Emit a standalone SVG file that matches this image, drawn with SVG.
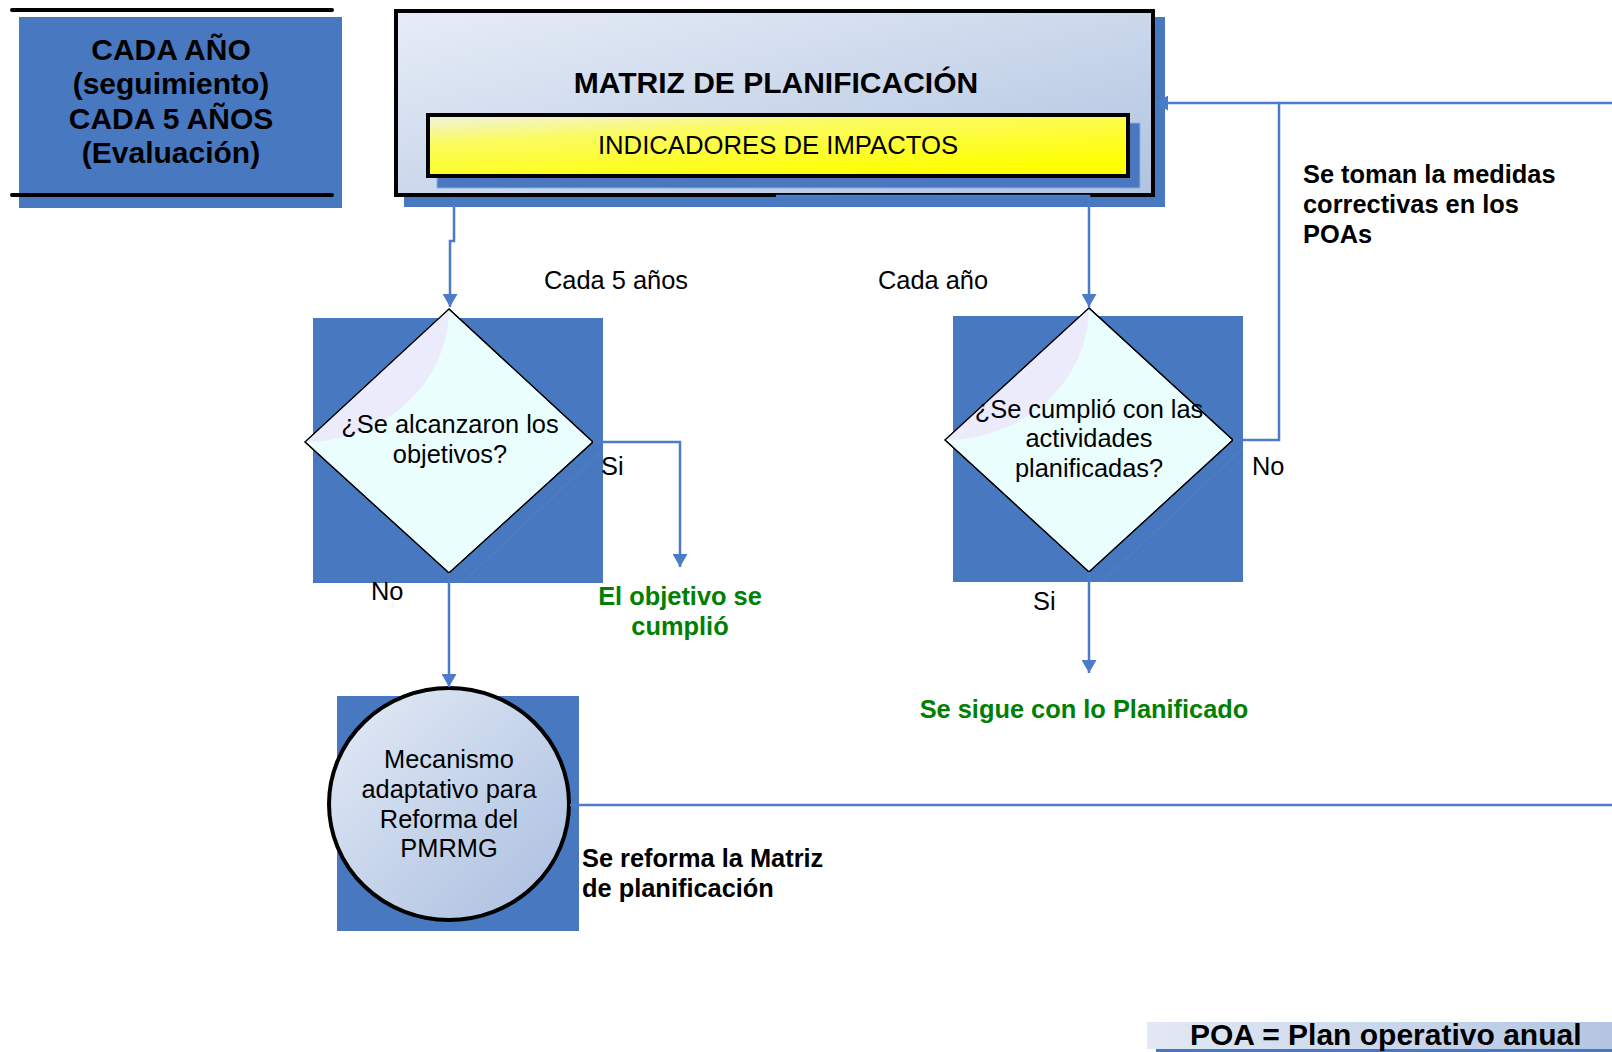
<svg xmlns="http://www.w3.org/2000/svg" width="1612" height="1052" viewBox="0 0 1612 1052">
<style>
text{font-family:"Liberation Sans",Arial,sans-serif;fill:#000}
.b{font-weight:bold}
.r25{font-size:25.4px}
.b25{font-size:25.4px;font-weight:bold}
.big{font-size:30px;font-weight:bold}
.g{fill:#008000}
.shadow{fill:#4878c0}
.dia{fill:#ebfefe;stroke:#000;stroke-width:1.2}
.hl{fill:#ecebfb}
.con{fill:none;stroke:#4a7cc9;stroke-width:2.5}
.mid{text-anchor:middle}
</style>
<defs>
<linearGradient id="gBox" x1="0" y1="0" x2="1" y2="1">
<stop offset="0" stop-color="#e7edf7"/>
<stop offset="1" stop-color="#b0c3e0"/>
</linearGradient>
<linearGradient id="gYel" x1="0" y1="0" x2="0.6" y2="1">
<stop offset="0" stop-color="#f0f2e6"/>
<stop offset="0.35" stop-color="#fbfb60"/>
<stop offset="1" stop-color="#ffff00"/>
</linearGradient>
<linearGradient id="gCir" x1="0" y1="0" x2="1" y2="1">
<stop offset="0" stop-color="#e4ebf6"/>
<stop offset="1" stop-color="#a9bedf"/>
</linearGradient>
<linearGradient id="gPoa" x1="0" y1="0" x2="1" y2="0">
<stop offset="0" stop-color="#e3e9f4"/>
<stop offset="1" stop-color="#b3c5e2"/>
</linearGradient>
<marker id="arr" markerUnits="userSpaceOnUse" viewBox="0 0 13 15" refX="13" refY="7.5" markerWidth="13" markerHeight="15" orient="auto">
<path d="M0,0 L13,7.5 L0,15 Z" fill="#4a7cc9"/>
</marker>
</defs>

<g id="leyenda-periodos">
<rect x="19" y="17" width="323" height="191" class="shadow"/>
<line x1="12" y1="10" x2="332" y2="10" stroke="#000" stroke-width="4" stroke-linecap="round"/>
<line x1="12" y1="195" x2="332" y2="195" stroke="#000" stroke-width="4" stroke-linecap="round"/>
<text class="big mid" x="171" y="60">CADA AÑO</text>
<text class="big mid" x="171" y="94">(seguimiento)</text>
<text class="big mid" x="171" y="129">CADA 5 AÑOS</text>
<text class="big mid" x="171" y="163">(Evaluación)</text>
</g>

<g id="matriz">
<rect x="404" y="17" width="761" height="190" class="shadow"/>
<rect x="396" y="11" width="757" height="184" fill="url(#gBox)" stroke="#000" stroke-width="4"/>
<text class="big mid" x="776" y="93">MATRIZ DE PLANIFICACIÓN</text>
<rect x="437" y="123" width="703" height="65" fill="#4a78c0" stroke="#8eaee0" stroke-width="1"/>
<rect x="428" y="115" width="700" height="61" fill="url(#gYel)" stroke="#000" stroke-width="4"/>
<text class="mid" font-size="25.7" x="778" y="154">INDICADORES DE IMPACTOS</text>
</g>

<g id="decision-objetivos">
<rect x="313" y="318" width="290" height="265" class="shadow"/>
<line x1="603" y1="450" x2="462" y2="583" stroke="#5585cc" stroke-width="0.8"/>
<polygon points="449,309 593,442 449,573 305,442" class="dia"/>
<path d="M449,309 A144,133 0 0 1 305,442 Z" class="hl"/>
<polygon points="449,309 593,442 449,573 305,442" fill="none" stroke="#000" stroke-width="1.2"/>
<text class="r25 mid" x="450" y="433">¿Se alcanzaron los</text>
<text class="r25 mid" x="450" y="463">objetivos?</text>
</g>

<g id="decision-actividades">
<rect x="953" y="316" width="290" height="266" class="shadow"/>
<line x1="1243" y1="448" x2="1102" y2="582" stroke="#5585cc" stroke-width="0.8"/>
<polygon points="1089,308 1233,440 1089,572 945,440" class="dia"/>
<path d="M1089,308 A144,132 0 0 1 945,440 Z" class="hl"/>
<polygon points="1089,308 1233,440 1089,572 945,440" fill="none" stroke="#000" stroke-width="1.2"/>
<text class="r25 mid" x="1089" y="418">¿Se cumplió con las</text>
<text class="r25 mid" x="1089" y="447">actividades</text>
<text class="r25 mid" x="1089" y="477">planificadas?</text>
</g>

<g id="mecanismo">
<rect x="337" y="696" width="242" height="235" class="shadow"/>
<ellipse cx="449" cy="804" rx="120" ry="116" fill="url(#gCir)" stroke="#000" stroke-width="4"/>
<text class="r25 mid" x="449" y="768">Mecanismo</text>
<text class="r25 mid" x="449" y="798">adaptativo para</text>
<text class="r25 mid" x="449" y="828">Reforma del</text>
<text class="r25 mid" x="449" y="857">PMRMG</text>
</g>

<g id="resultado-objetivo">
<text class="b25 g mid" x="680" y="605">El objetivo se</text>
<text class="b25 g mid" x="680" y="635">cumplió</text>
</g>

<g id="resultado-planificado">
<text class="b25 g mid" x="1084" y="718">Se sigue con lo Planificado</text>
</g>

<g id="nota-medidas">
<text class="b25" x="1303" y="183">Se toman la medidas</text>
<text class="b25" x="1303" y="213">correctivas en los</text>
<text class="b25" x="1303" y="243">POAs</text>
</g>

<g id="nota-reforma">
<text class="b25" x="582" y="867">Se reforma la Matriz</text>
<text class="b25" x="582" y="897">de planificación</text>
</g>

<g id="poa">
<rect x="1156" y="1030" width="456" height="22" class="shadow"/>
<rect x="1147" y="1022" width="465" height="27" fill="url(#gPoa)"/>
<text class="big" x="1190" y="1045">POA = Plan operativo anual</text>
</g>

<g id="connectors">
<path d="M454,197 V241 H450 V307" class="con" marker-end="url(#arr)"/>
<path d="M776,196 H1089 V307" class="con" marker-end="url(#arr)"/>
<path d="M593,442 H680 V567" class="con" marker-end="url(#arr)"/>
<path d="M449,573 V687" class="con" marker-end="url(#arr)"/>
<path d="M1089,572 V673" class="con" marker-end="url(#arr)"/>
<path d="M1233,440 H1279 V103 H1155" class="con" marker-end="url(#arr)"/>
<path d="M1612,103 H1279" class="con"/>
<path d="M570,805 H1612" class="con"/>
</g>

<g id="labels">
<text class="r25" x="544" y="289">Cada 5 años</text>
<text class="r25" x="878" y="289">Cada año</text>
<text class="r25" x="601" y="475">Si</text>
<text class="r25" x="371" y="600">No</text>
<text class="r25" x="1033" y="610">Si</text>
<text class="r25" x="1252" y="475">No</text>
</g>
</svg>
